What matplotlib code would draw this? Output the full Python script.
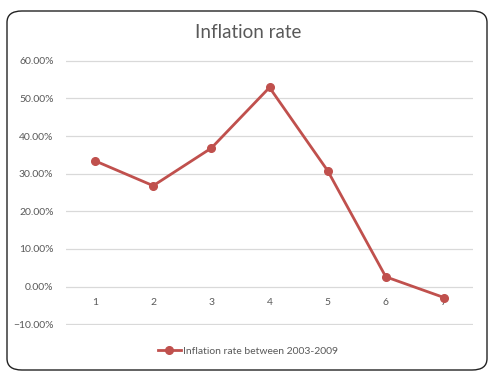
import matplotlib.pyplot as plt
from matplotlib.patches import FancyBboxPatch
from matplotlib.ticker import PercentFormatter

# data
periods = [1, 2, 3, 4, 5, 6, 7]
inflation = [0.334, 0.268, 0.368, 0.529, 0.308, 0.026, -0.029]
series_name = 'Inflation rate between 2003-2009'

plt.rcParams['font.family'] = ['Lato', 'DejaVu Sans']
grey = '#595959'
red = '#C0504D'

fig = plt.figure(figsize=(4.96, 3.81), dpi=100)
ax = fig.add_axes([66 / 496, 56 / 381, 407 / 496, 265 / 381])

# rounded chart border
border = FancyBboxPatch((7 / 496, 11 / 381), 480 / 496, 359 / 381,
                        boxstyle='round,pad=0,rounding_size=0.03',
                        transform=fig.transFigure, fill=False,
                        edgecolor='#222222', linewidth=1.0, zorder=0)
fig.patches.append(border)

line, = ax.plot(periods, inflation, color=red, linewidth=2.0,
                marker='o', markersize=5.5, label=series_name, zorder=3)

ax.set_xlim(0.5, 7.5)
ax.set_ylim(-0.102, 0.602)
ax.set_yticks([-0.1, 0, 0.1, 0.2, 0.3, 0.4, 0.5, 0.6])
ax.yaxis.set_major_formatter(PercentFormatter(1.0, decimals=2))
ax.grid(axis='y', color='#D9D9D9', linewidth=0.9)
ax.set_axisbelow(True)

for s in ax.spines.values():
    s.set_visible(False)
ax.spines['bottom'].set_position(('data', 0))

ax.set_xticks(periods)
ax.tick_params(axis='x', length=0, pad=8, labelsize=7.5, labelcolor=grey)
ax.tick_params(axis='y', length=0, pad=9, labelsize=7.5, labelcolor=grey)

fig.text(0.5, 1 - 33 / 381, 'Inflation rate', ha='center', va='center',
         fontsize=13.5, color=grey)

fig.legend(handles=[line], loc='center', bbox_to_anchor=(0.5, 1 - 351 / 381),
           frameon=False, fontsize=7.5, labelcolor=grey, handlelength=2.2,
           handletextpad=0.2)

fig.savefig('out.png', dpi=100)
